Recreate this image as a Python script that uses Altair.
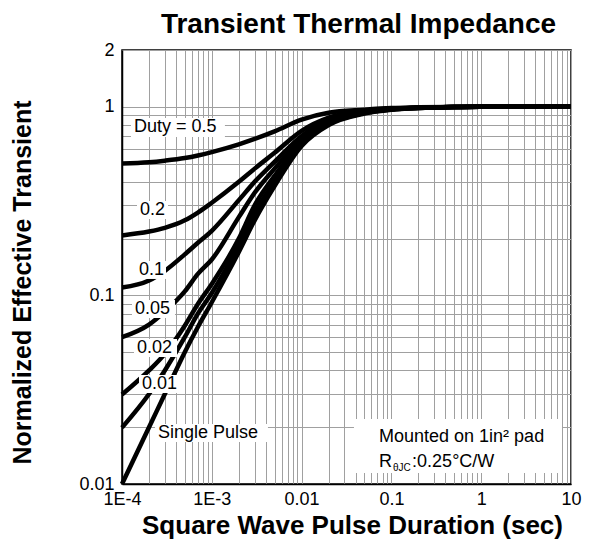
import altair as alt
import pandas as pd

# ---------------- data ----------------
t_vals = [1e-4, 2e-4, 3e-4, 5e-4, 7e-4, 1e-3, 2e-3, 3e-3, 5e-3, 1e-2, 2e-2, 5e-2, 0.1, 0.2, 0.5, 1, 10]

z_d50 = [0.50, 0.508, 0.518, 0.535, 0.552, 0.575, 0.632, 0.675, 0.74, 0.855, 0.93, 0.965, 0.985, 0.993, 0.998, 1.0, 1.0]
z_d20 = [0.208, 0.218, 0.228, 0.25, 0.275, 0.31, 0.40, 0.47, 0.57, 0.745, 0.875, 0.95, 0.978, 0.99, 0.998, 1.0, 1.0]
z_d10 = [0.110, 0.120, 0.135, 0.165, 0.19, 0.22, 0.32, 0.40, 0.51, 0.70, 0.85, 0.94, 0.972, 0.988, 0.997, 1.0, 1.0]
z_d05 = [0.060, 0.070, 0.082, 0.105, 0.13, 0.155, 0.26, 0.35, 0.47, 0.67, 0.835, 0.935, 0.97, 0.987, 0.997, 1.0, 1.0]
z_d02 = [0.0298, 0.040, 0.049, 0.069, 0.09, 0.115, 0.20, 0.30, 0.43, 0.65, 0.82, 0.93, 0.968, 0.986, 0.997, 1.0, 1.0]
z_d01 = [0.0199, 0.030, 0.040, 0.060, 0.08, 0.103, 0.185, 0.275, 0.40, 0.635, 0.81, 0.925, 0.967, 0.986, 0.997, 1.0, 1.0]
z_single = [0.010, 0.020, 0.030, 0.050, 0.068, 0.092, 0.17, 0.25, 0.38, 0.62, 0.80, 0.92, 0.965, 0.985, 0.997, 1.0, 1.0]

series_names = ["0.5", "0.2", "0.1", "0.05", "0.02", "0.01", "single"]
series_values = [z_d50, z_d20, z_d10, z_d05, z_d02, z_d01, z_single]

# curve labels: text, anchor (left, middle) and white box extents
label_text = ["Duty = 0.5", "0.2", "0.1", "0.05", "0.02", "0.01", "Single Pulse"]
label_t = [1.36e-4, 1.586e-4, 1.546e-4, 1.396e-4, 1.469e-4, 1.67e-4, 2.517e-4]
label_z = [0.777, 0.2837, 0.1364, 0.0847, 0.0526, 0.0339, 0.01864]
box_t1 = [1.259e-4, 1.469e-4, 1.432e-4, 1.292e-4, 1.36e-4, 1.546e-4, 2.33e-4]
box_t2 = [1.40e-3, 3.253e-4, 3.09e-4, 3.89e-4, 4.10e-4, 4.42e-4, 4.22e-3]
box_z1 = [0.872, 0.3166, 0.1522, 0.0945, 0.0587, 0.0378, 0.0208]
box_z2 = [0.6915, 0.2542, 0.1222, 0.0759, 0.0471, 0.0304, 0.0167]

# note box
note_box_t = [0.0383, 7.94]
note_box_z = [0.0221, 0.01144]
note_text = ["Mounted on 1in\u00b2 pad", "R", ":0.25\u00b0C/W"]
note_t = [0.0728, 0.0728, 0.170]
note_z = [0.01775, 0.01308, 0.01308]
sub_text = ["\u03b8JC"]
sub_t = [0.104]
sub_z = [0.0122]

# axes
x_domain = [1e-4, 10]
y_domain = [0.01, 2]
x_major = [1e-4, 1e-3, 1e-2, 1e-1, 1, 10]
x_major_labels = ["1E-4", "1E-3", "0.01", "0.1", "1", "10"]
y_major = [0.01, 0.1, 1, 2]
y_major_labels = ["0.01", "0.1", "1", "2"]

x_grid = [float(f"{k}e{d}") for d in range(-4, 1) for k in range(1, 10)] + [10.0]
y_grid = [float(f"{k}e{d}") for d in range(-2, 0) for k in range(1, 10)] + [1.0, 2.0]


def label_expr(vals, labs):
    expr = "''"
    for v, l in reversed(list(zip(vals, labs))):
        expr = f"datum.value == {repr(float(v))} ? '{l}' : ({expr})"
    return expr


# ---------------- tables ----------------
rows = []
for name, vals in zip(series_names, series_values):
    for t, z in zip(t_vals, vals):
        rows.append({"series": name, "t": t, "z": z})
curves = pd.DataFrame(rows)

labels = pd.DataFrame({"text": label_text, "t": label_t, "z": label_z,
                       "t1": box_t1, "t2": box_t2, "z1": box_z1, "z2": box_z2})
note_box = pd.DataFrame({"t1": [note_box_t[0]], "t2": [note_box_t[1]],
                         "z1": [note_box_z[0]], "z2": [note_box_z[1]]})
notes = pd.DataFrame({"text": note_text, "t": note_t, "z": note_z})
subs = pd.DataFrame({"text": sub_text, "t": sub_t, "z": sub_z})

FONT = "Liberation Sans"
xscale = alt.Scale(type="log", domain=x_domain, nice=False)
yscale = alt.Scale(type="log", domain=y_domain, nice=False)

x_axis = alt.Axis(
    values=x_grid, labelExpr=label_expr(x_major, x_major_labels),
    grid=True, gridColor="#a0a0a0", gridWidth=1, ticks=False,
    domainColor="black", domainWidth=1.5,
    labelFont=FONT, labelFontSize=18, labelColor="black", labelPadding=6,
    labelOverlap=False, labelFlush=False,
    title="Square Wave Pulse Duration (sec)", titleFont=FONT, titleFontSize=26,
    titleFontWeight="bold", titleColor="black", titleX=230, titleY=41,
    titleAlign="center", titleBaseline="middle",
)
y_axis = alt.Axis(
    values=y_grid, labelExpr=label_expr(y_major, y_major_labels),
    grid=True, gridColor="#a0a0a0", gridWidth=1, ticks=False,
    domainColor="black", domainWidth=1.5,
    labelFont=FONT, labelFontSize=18, labelColor="black", labelPadding=8,
    labelOverlap=False, labelFlush=False,
    title="Normalized Effective Transient", titleFont=FONT, titleFontSize=25,
    titleFontWeight="bold", titleColor="black", titleX=-100, titleY=232,
    titleAlign="center", titleBaseline="middle", titleAngle=270,
)


def X(field):
    return alt.X(field, type="quantitative", scale=xscale, axis=x_axis)


def Y(field):
    return alt.Y(field, type="quantitative", scale=yscale, axis=y_axis)


lines = alt.Chart(curves).mark_line(color="black", strokeWidth=4.5, interpolate="monotone").encode(
    x=X("t"), y=Y("z"), detail="series:N",
)
boxes = alt.Chart(labels).mark_rect(color="white").encode(
    x=X("t1"), x2="t2", y=Y("z1"), y2="z2",
)
texts = alt.Chart(labels).mark_text(align="left", baseline="middle", font=FONT,
                                    fontSize=18, color="black").encode(
    x=X("t"), y=Y("z"), text="text:N",
)
nbox = alt.Chart(note_box).mark_rect(color="white").encode(
    x=X("t1"), x2="t2", y=Y("z1"), y2="z2",
)
ntext = alt.Chart(notes).mark_text(align="left", baseline="middle", font=FONT,
                                   fontSize=18, color="black").encode(
    x=X("t"), y=Y("z"), text="text:N",
)
stext = alt.Chart(subs).mark_text(align="left", baseline="middle", font=FONT,
                                  fontSize=10, color="black").encode(
    x=X("t"), y=Y("z"), text="text:N",
)

chart = alt.layer(lines, boxes, texts, nbox, ntext, stext).properties(
    width=449, height=434,
    title=alt.TitleParams("Transient Thermal Impedance", font=FONT, fontSize=28,
                          fontWeight="bold", color="black", anchor="middle", dx=12, offset=2),
    autosize=alt.AutoSizeParams(type="none"),
    padding={"left": 114, "top": 42, "right": 20, "bottom": 56},
    background="white",
).configure_view(stroke="black", strokeWidth=1.5)

chart.save("out.html", embed_options={"renderer": "svg", "actions": False})
